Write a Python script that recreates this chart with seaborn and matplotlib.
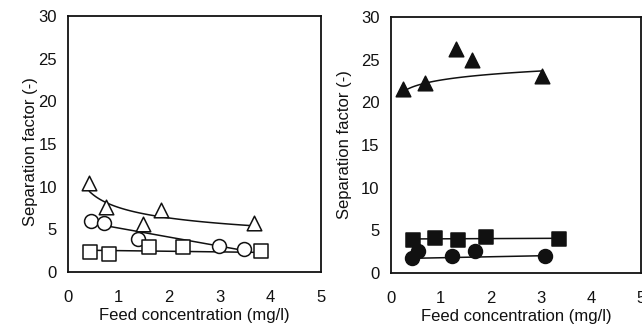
import numpy as np
import pandas as pd
import matplotlib
matplotlib.use("Agg")
import matplotlib.pyplot as plt
import seaborn as sns

# Left panel: open markers
left_tri_x = [0.42, 0.75, 1.48, 1.84, 3.68]
left_tri_y = [10.4, 7.6, 5.6, 7.3, 5.7]
left_circ_x = [0.45, 0.71, 1.38, 2.99, 3.48]
left_circ_y = [6.0, 5.8, 3.9, 3.1, 2.7]
left_sq_x = [0.43, 0.80, 1.60, 2.27, 3.81]
left_sq_y = [2.4, 2.1, 2.9, 2.9, 2.5]

# Right panel: filled markers
right_tri_x = [0.25, 0.68, 1.31, 1.63, 3.01]
right_tri_y = [21.6, 22.3, 26.2, 25.0, 23.1]
right_sq_x = [0.45, 0.88, 1.35, 1.91, 3.36]
right_sq_y = [3.9, 4.1, 3.9, 4.2, 4.0]
right_circ_x = [0.42, 0.55, 1.23, 1.68, 3.07]
right_circ_y = [1.7, 2.6, 2.0, 2.6, 2.0]

# Model curves: logarithmic y = a + b*ln(x), straight y = a + b*x
right_tri_model = [22.6, 0.97]
left_sq_model = [2.58, -0.074]
right_circ_model = [1.67, 0.117]

x_ticks = [0, 1, 2, 3, 4, 5]
y_ticks = [0, 5, 10, 15, 20, 25, 30]
xlabel = "Feed concentration (mg/l)"
ylabel = "Separation factor (-)"

sns.set_style("white")
plt.rcParams["font.family"] = ["Liberation Sans", "DejaVu Sans"]
plt.rcParams["font.size"] = 12

INK = "#111111"


def trend(x, y, kind, coef=None):
    x = np.asarray(x, float)
    y = np.asarray(y, float)
    xs = np.linspace(x.min(), x.max(), 100)
    if kind == "power":
        b, a = np.polyfit(np.log(x), np.log(y), 1)
        ys = np.exp(a) * xs ** b
    elif kind == "log":
        a, b = coef
        ys = a + b * np.log(xs)
    elif coef is not None:
        a, b = coef
        ys = a + b * xs
    else:
        ys = np.polyval(np.polyfit(x, y, 1), xs)
    return pd.DataFrame({"x": xs, "y": ys})


def draw_series(ax, x, y, marker, filled, kind, size, coef=None):
    fit = trend(x, y, kind, coef)
    sns.lineplot(data=fit, x="x", y="y", ax=ax, color=INK, lw=1.1, zorder=2)
    df = pd.DataFrame({"x": x, "y": y})
    sns.scatterplot(data=df, x="x", y="y", ax=ax, marker=marker, s=size,
                    facecolor=INK if filled else "white", edgecolor=INK,
                    linewidth=1.1, zorder=3)


def style_axes(ax, label_x, label_y):
    ax.set_xlim(0, 5)
    ax.set_ylim(0, 30)
    ax.set_xticks(x_ticks)
    ax.set_yticks(y_ticks)
    ax.set_xlabel(xlabel, color=INK, labelpad=2)
    ax.set_ylabel(ylabel, color=INK)
    ax.yaxis.set_label_coords(label_x, label_y)
    ax.tick_params(axis="x", direction="in", length=2, pad=13, colors=INK)
    ax.tick_params(axis="y", direction="in", length=2, pad=8, colors=INK)
    for sp in ax.spines.values():
        sp.set_color(INK)
        sp.set_linewidth(1.3)


fig = plt.figure(figsize=(6.42, 3.25), dpi=100)
ax1 = fig.add_axes([0.106, 0.163, 0.394, 0.788])
ax2 = fig.add_axes([0.6086, 0.160, 0.3905, 0.788])

draw_series(ax1, left_tri_x, left_tri_y, "^", False, "power", 110)
draw_series(ax1, left_circ_x, left_circ_y, "o", False, "linear", 100)
draw_series(ax1, left_sq_x, left_sq_y, "s", False, "linear", 95, left_sq_model)

draw_series(ax2, right_tri_x, right_tri_y, "^", True, "log", 110, right_tri_model)
draw_series(ax2, right_sq_x, right_sq_y, "s", True, "linear", 95)
draw_series(ax2, right_circ_x, right_circ_y, "o", True, "linear", 100, right_circ_model)

style_axes(ax1, -0.119, 0.47)
style_axes(ax2, -0.154, 0.50)

fig.savefig("out.png", dpi=100)
